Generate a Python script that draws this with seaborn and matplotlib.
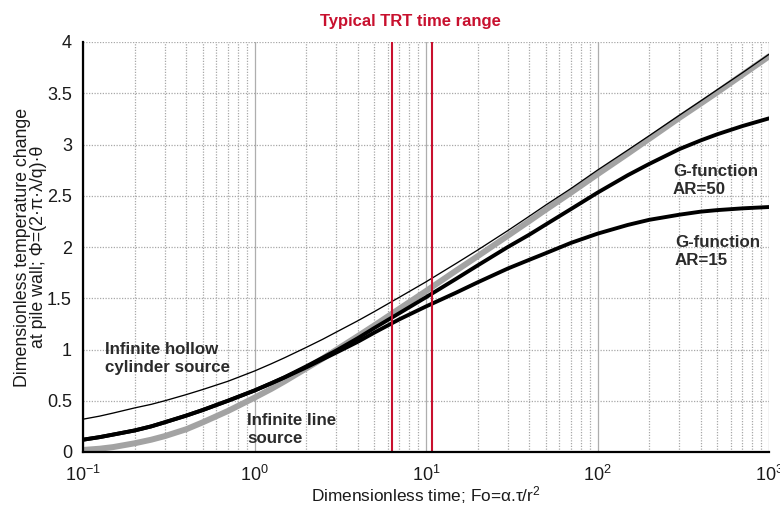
import numpy as np
import pandas as pd
import matplotlib
matplotlib.use("Agg")
import matplotlib.pyplot as plt
import seaborn as sns
from matplotlib.ticker import LogLocator, MultipleLocator, FixedLocator

# ---- data ----
fo = [0.1, 0.125, 0.15, 0.2, 0.25, 0.3, 0.4, 0.5, 0.7, 1, 1.25, 1.5, 2, 2.5,
      3, 4, 5, 7, 10, 15, 20, 30, 40, 50, 70, 100, 150, 200, 300, 400, 500,
      700, 1000]
line_source = [0.02, 0.032, 0.048, 0.085, 0.12, 0.155, 0.222, 0.29, 0.40,
               0.53, 0.615, 0.69, 0.815, 0.912, 0.997, 1.13, 1.235, 1.398,
               1.57, 1.77, 1.91, 2.11, 2.253, 2.365, 2.53, 2.71, 2.91, 3.055,
               3.26, 3.40, 3.51, 3.68, 3.86]
hollow_cyl = [0.32, 0.35, 0.38, 0.43, 0.465, 0.50, 0.56, 0.61, 0.69, 0.79,
              0.86, 0.92, 1.02, 1.10, 1.17, 1.28, 1.37, 1.51, 1.66, 1.84,
              1.97, 2.16, 2.30, 2.41, 2.57, 2.75, 2.945, 3.085, 3.285, 3.425,
              3.535, 3.70, 3.88]
g_ar50 = [0.12, 0.145, 0.17, 0.21, 0.25, 0.29, 0.355, 0.41, 0.50, 0.60,
          0.67, 0.73, 0.835, 0.92, 0.99, 1.11, 1.21, 1.355, 1.51, 1.69,
          1.82, 2.00, 2.12, 2.22, 2.37, 2.53, 2.70, 2.81, 2.955, 3.04,
          3.10, 3.18, 3.255]
g_ar15 = [0.12, 0.145, 0.17, 0.21, 0.25, 0.29, 0.355, 0.41, 0.50, 0.60,
          0.67, 0.728, 0.825, 0.905, 0.97, 1.075, 1.165, 1.295, 1.42, 1.555,
          1.655, 1.79, 1.875, 1.94, 2.04, 2.13, 2.215, 2.265, 2.315, 2.345,
          2.36, 2.377, 2.39]
trt_range = [6.3, 10.9]

title_txt = "Typical TRT time range"
xlabel_txt = r"Dimensionless time; Fo=$\alpha$.$\tau$/r$^2$"
ylabel_txt = "Dimensionless temperature change\nat pile wall; \u03a6=(2\u00b7\u03c0\u00b7\u03bb/q)\u00b7\u03b8"
ann_hollow = "Infinite hollow\ncylinder source"
ann_line = "Infinite line\nsource"
ann_g50 = "G-function\nAR=50"
ann_g15 = "G-function\nAR=15"
yticks = [0, 0.5, 1, 1.5, 2, 2.5, 3, 3.5, 4]

df = pd.DataFrame({"Fo": fo, "ils": line_source, "hcs": hollow_cyl,
                   "g50": g_ar50, "g15": g_ar15})

sns.set_theme(style="white")
plt.rcParams["font.family"] = ["Liberation Sans", "DejaVu Sans"]
plt.rcParams["mathtext.fontset"] = "custom"
plt.rcParams["mathtext.rm"] = "Liberation Sans"
plt.rcParams["mathtext.it"] = "Liberation Sans"

fig = plt.figure(figsize=(7.8, 5.08), dpi=100)
ax = fig.add_axes([83/780, 1-452/508, (769-83)/780, (452-42)/508])

ax.set_xscale("log")
ax.set_xlim(0.1, 1000)
ax.set_ylim(0, 4)

# grid
ax.xaxis.set_major_locator(LogLocator(base=10, numticks=10))
ax.xaxis.set_minor_locator(LogLocator(base=10, subs=np.arange(2, 10), numticks=20))
ax.yaxis.set_major_locator(FixedLocator(yticks))
ax.yaxis.set_minor_locator(MultipleLocator(0.25))
ax.grid(True, which="major", axis="x", color="#9a9a9a", lw=0.9, ls="-", alpha=0.8)
ax.grid(True, which="minor", axis="x", color="#a8a8a8", lw=0.9, ls=(0, (1, 1.2)))
ax.grid(True, which="major", axis="y", color="#a8a8a8", lw=0.9, ls=(0, (1, 1.2)))

sns.lineplot(data=df, x="Fo", y="ils", ax=ax, color="#a3a3a3", lw=4.3,
             zorder=2, sort=False)
sns.lineplot(data=df, x="Fo", y="g15", ax=ax, color="black", lw=2.8,
             zorder=3, sort=False)
sns.lineplot(data=df, x="Fo", y="g50", ax=ax, color="black", lw=2.8,
             zorder=3, sort=False)
sns.lineplot(data=df, x="Fo", y="hcs", ax=ax, color="black", lw=0.95,
             zorder=4, sort=False)

for v in trt_range:
    ax.axvline(v, color="#c8102e", lw=1.5, zorder=5)

# spines
for s in ["top", "right"]:
    ax.spines[s].set_visible(False)
for s in ["left", "bottom"]:
    ax.spines[s].set_color("black")
    ax.spines[s].set_linewidth(1.6)
    ax.spines[s].set_zorder(6)

ax.tick_params(axis="both", which="major", direction="in", length=5,
               width=1.0, color="black", labelsize=13, labelcolor="#1a1a1a")
ax.tick_params(axis="x", which="major", pad=9)
ax.tick_params(axis="y", which="major", pad=8)
ax.tick_params(axis="both", which="minor", direction="in", length=3,
               width=0.8, color="black")
ax.set_yticklabels([f"{t:g}" for t in yticks])

ax.set_xlabel(xlabel_txt, fontsize=12.4, color="#1a1a1a", labelpad=0)
ax.set_ylabel(ylabel_txt, fontsize=12.8, color="#1a1a1a", labelpad=0,
              linespacing=0.95)

ax.text(0.477, 1.049, title_txt, transform=ax.transAxes, ha="center",
        va="center", color="#c8102e", fontsize=12, fontweight="bold")

tk = dict(fontsize=12.2, fontweight="bold", color="#2b2b2b", ha="left",
          va="center", linespacing=1.25, zorder=7)
ax.text(0.134, 0.91, ann_hollow, **tk)
ax.text(0.904, 0.215, ann_line, **tk)
ax.text(275, 2.65, ann_g50, **tk)
ax.text(283, 1.96, ann_g15, **tk)

fig.savefig("out.png", dpi=100)
